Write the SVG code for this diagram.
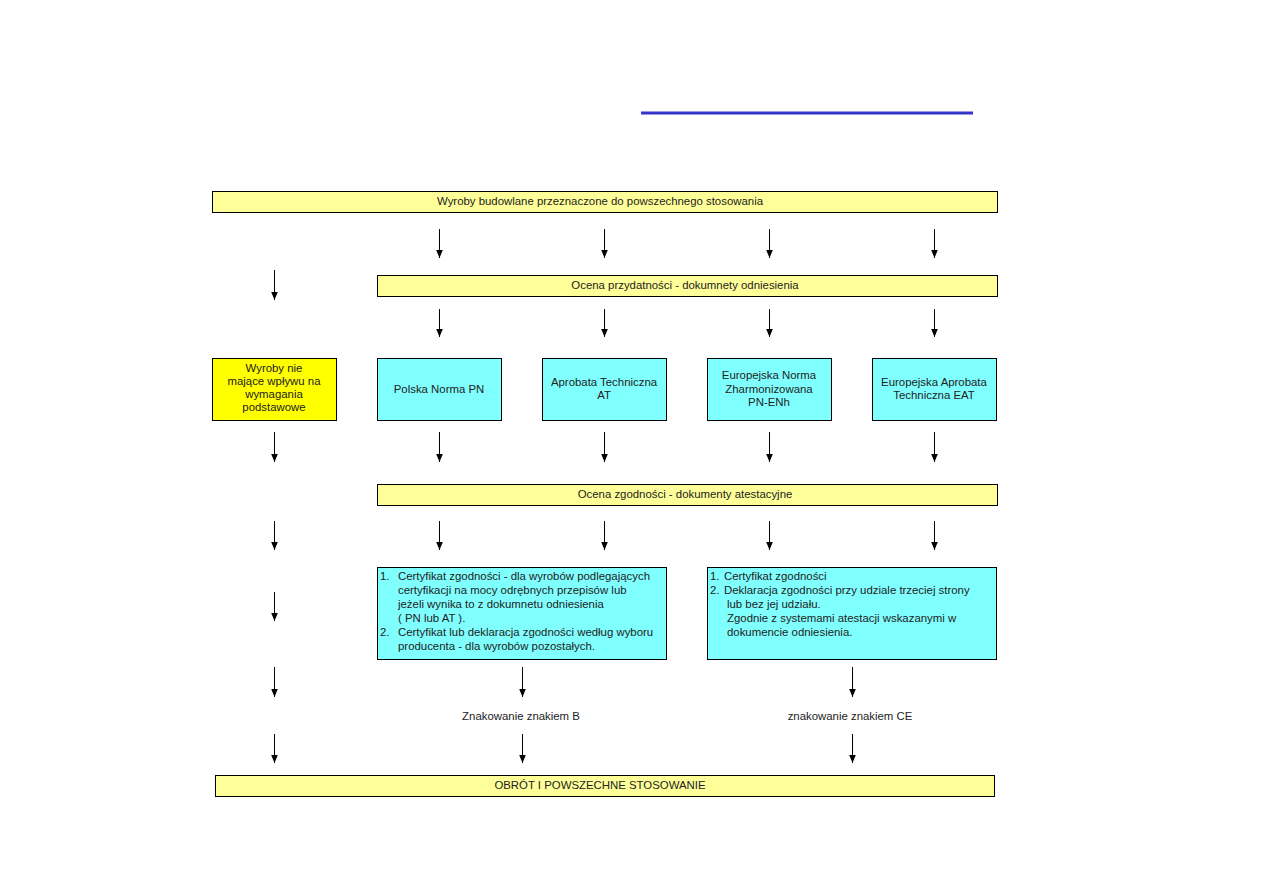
<svg xmlns="http://www.w3.org/2000/svg" width="1263" height="893" viewBox="0 0 1263 893">
<defs>
<marker id="ah" markerWidth="9" markerHeight="8" refX="8.5" refY="4" orient="auto" markerUnits="userSpaceOnUse" viewBox="0 0 9 8">
<path d="M0,0.5 L8.5,4 L0,7.5 Z" fill="#000"/>
</marker>
<style>
.bar{fill:#FFFF99;stroke:#000;stroke-width:1}
.yel{fill:#FFFF00;stroke:#000;stroke-width:1}
.cy{fill:#80FFFF;stroke:#000;stroke-width:1}
text{font-family:"Liberation Sans",Arial,sans-serif;font-size:11.4px;fill:#222}
.c{text-anchor:middle}
.ar{stroke:#000;stroke-width:1;fill:none;marker-end:url(#ah)}
</style>
</defs>
<rect width="1263" height="893" fill="#fff"/>
<line x1="641" y1="113" x2="973" y2="113" stroke="#3333CC" stroke-width="3"/>

<g id="n-top"><rect class="bar" x="212.5" y="191.5" width="785" height="21"/><text class="c" x="600" y="205">Wyroby budowlane przeznaczone do powszechnego stosowania</text></g>
<g id="n-przyd"><rect class="bar" x="377.5" y="275.5" width="620" height="21"/><text class="c" x="685" y="289">Ocena przydatności - dokumnety odniesienia</text></g>
<g id="n-nie"><rect class="yel" x="212.5" y="358.5" width="124" height="62"/><text class="c" x="274" y="372">Wyroby nie</text><text class="c" x="274" y="385">mające wpływu na</text><text class="c" x="274" y="398">wymagania</text><text class="c" x="274" y="411">podstawowe</text></g>
<g id="n-pn"><rect class="cy" x="377.5" y="358.5" width="124" height="62"/><text class="c" x="439" y="393">Polska Norma PN</text></g>
<g id="n-at"><rect class="cy" x="542.5" y="358.5" width="124" height="62"/><text class="c" x="604" y="386">Aprobata Techniczna</text><text class="c" x="604" y="399">AT</text></g>
<g id="n-enh"><rect class="cy" x="707.5" y="358.5" width="124" height="62"/><text class="c" x="769" y="379">Europejska Norma</text><text class="c" x="769" y="393">Zharmonizowana</text><text class="c" x="769" y="406">PN-ENh</text></g>
<g id="n-eat"><rect class="cy" x="872.5" y="358.5" width="124" height="62"/><text class="c" x="934" y="386">Europejska Aprobata</text><text class="c" x="934" y="399">Techniczna EAT</text></g>
<g id="n-zgod"><rect class="bar" x="377.5" y="484.5" width="620" height="21"/><text class="c" x="685" y="498">Ocena zgodności - dokumenty atestacyjne</text></g>
<g id="n-cert1"><rect class="cy" x="377.5" y="567.5" width="289" height="92"/>
<text x="380" y="580">1.</text><text x="398" y="580">Certyfikat zgodności - dla wyrobów podlegających</text>
<text x="398" y="594">certyfikacji na mocy odrębnych przepisów lub</text>
<text x="398" y="608">jeżeli wynika to z dokumnetu odniesienia</text>
<text x="398" y="622">( PN lub AT ).</text>
<text x="380" y="636">2.</text><text x="398" y="636">Certyfikat lub deklaracja zgodności według wyboru</text>
<text x="398" y="650">producenta - dla wyrobów pozostałych.</text></g>
<g id="n-cert2"><rect class="cy" x="707.5" y="567.5" width="289" height="92"/>
<text x="710" y="580">1.</text><text x="724" y="580">Certyfikat zgodności</text>
<text x="710" y="594">2.</text><text x="724" y="594">Deklaracja zgodności przy udziale trzeciej strony</text>
<text x="727" y="608">lub bez jej udziału.</text>
<text x="727" y="622">Zgodnie z systemami atestacji wskazanymi w</text>
<text x="727" y="636">dokumencie odniesienia.</text></g>
<g id="n-b"><text class="c" x="521" y="720">Znakowanie znakiem B</text></g>
<g id="n-ce"><text class="c" x="850" y="720">znakowanie znakiem CE</text></g>
<g id="n-obrot"><rect class="bar" x="215.5" y="775.5" width="779" height="21"/><text class="c" x="600" y="789">OBRÓT I POWSZECHNE STOSOWANIE</text></g>

<g id="connectors">
<line class="ar" x1="439.5" y1="229" x2="439.5" y2="258"/>
<line class="ar" x1="604.5" y1="229" x2="604.5" y2="258"/>
<line class="ar" x1="769.5" y1="229" x2="769.5" y2="258"/>
<line class="ar" x1="934.5" y1="229" x2="934.5" y2="258"/>
<line class="ar" x1="274.5" y1="270" x2="274.5" y2="300"/>
<line class="ar" x1="439.5" y1="309" x2="439.5" y2="337"/>
<line class="ar" x1="604.5" y1="309" x2="604.5" y2="337"/>
<line class="ar" x1="769.5" y1="309" x2="769.5" y2="337"/>
<line class="ar" x1="934.5" y1="309" x2="934.5" y2="337"/>
<line class="ar" x1="274.5" y1="432" x2="274.5" y2="462"/>
<line class="ar" x1="439.5" y1="432" x2="439.5" y2="462"/>
<line class="ar" x1="604.5" y1="432" x2="604.5" y2="462"/>
<line class="ar" x1="769.5" y1="432" x2="769.5" y2="462"/>
<line class="ar" x1="934.5" y1="432" x2="934.5" y2="462"/>
<line class="ar" x1="274.5" y1="521" x2="274.5" y2="550"/>
<line class="ar" x1="439.5" y1="521" x2="439.5" y2="550"/>
<line class="ar" x1="604.5" y1="521" x2="604.5" y2="550"/>
<line class="ar" x1="769.5" y1="521" x2="769.5" y2="550"/>
<line class="ar" x1="934.5" y1="521" x2="934.5" y2="550"/>
<line class="ar" x1="274.5" y1="592" x2="274.5" y2="621"/>
<line class="ar" x1="274.5" y1="667" x2="274.5" y2="697"/>
<line class="ar" x1="522.5" y1="667" x2="522.5" y2="697"/>
<line class="ar" x1="852.5" y1="667" x2="852.5" y2="697"/>
<line class="ar" x1="274.5" y1="734" x2="274.5" y2="763"/>
<line class="ar" x1="522.5" y1="734" x2="522.5" y2="763"/>
<line class="ar" x1="852.5" y1="734" x2="852.5" y2="763"/>
</g>
</svg>
